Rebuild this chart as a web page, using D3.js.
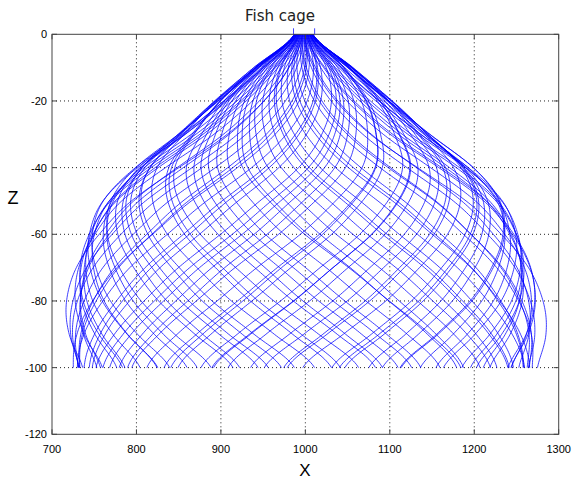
<!DOCTYPE html>
<html>
<head>
<meta charset="utf-8">
<script src="https://cdn.jsdelivr.net/npm/d3@7"></script>
<style>
  html, body { margin: 0; padding: 0; background: #fff; }
  svg { display: block; }
</style>
</head>
<body>
<script>
// Axis ranges and ticks
const xDomain = [700, 1300];
const zDomain = [-120, 0];
const xTicks = [700, 800, 900, 1000, 1100, 1200, 1300];
const zTicks = [0, -20, -40, -60, -80, -100, -120];

// Cage radius at each depth (m) and the share of the total twist reached there
const profileZ = [0, -10, -20, -30, -40, -50, -60, -70, -80, -90, -100];
const profileR = [11, 58, 104, 148, 197, 233, 252, 264, 270, 271, 268];
const twistFrac = [0, 0.08, 0.17, 0.27, 0.37, 0.48, 0.58, 0.69, 0.79, 0.90, 1.0];
const centreX = 998;

// Twines wound one way: start angle (deg), total twist (deg), radius factor
const phaseA = [0, 8.7, 14.2, 24, 28.7, 37.9, 45.9, 51.4, 61.4, 67, 75.8, 81,
                90.2, 98.6, 104.1, 113.8, 118.6, 128.1, 136, 141.3, 150.3, 159, 164.3, 173.7,
                178.5, 188, 195.9, 201.5, 211.4, 217.1, 225.1, 233.8, 238.4, 248.3, 254.1, 263,
                271.1, 276.2, 285.6, 293.9, 299.2, 307.7, 313.8, 323.5, 329.7, 339, 343.9, 353.2];
const twistA = [100, 101, 99, 100.5, 98.5, 101.5, 99.5, 100, 101, 99, 100.5, 98.5,
                100, 101.5, 99.5, 100.5, 99, 101, 98.5, 100, 101.5, 99.5, 100, 99,
                101, 100.5, 98.5, 100, 101.5, 99, 100.5, 99.5, 101, 100, 98.5, 101.5,
                99.5, 100, 100.5, 99, 101, 98.5, 100, 101.5, 99.5, 100.5, 99, 101];
const scaleA = [1.00, 0.99, 1.01, 0.98, 1.02, 1.00, 0.99, 1.01, 0.98, 1.00, 1.02, 0.99,
                1.01, 1.04, 0.98, 1.00, 1.01, 0.99, 1.02, 0.98, 1.00, 1.01, 0.99, 1.02,
                0.98, 1.00, 1.01, 0.99, 1.02, 0.98, 1.00, 1.01, 0.99, 1.02, 0.98, 1.00,
                1.01, 0.99, 1.02, 0.98, 1.00, 1.01, 0.99, 1.02, 0.98, 1.00, 1.01, 0.99];
// Twines wound the other way
const phaseB = [4.4, 10.3, 20.1, 26.1, 34.7, 39.9, 49.2, 57.5, 63.1, 72.8, 77.7, 86.6,
                94.6, 100, 109.8, 115.8, 125.2, 130.4, 139, 147.4, 152.3, 162, 168.4, 177.6,
                182.8, 191.8, 200, 205.1, 213.9, 222.2, 228.2, 237.8, 242.4, 251.7, 259.8, 265.5,
                275.1, 281, 289.5, 294.8, 304.9, 311.5, 317.7, 327.7, 333.2, 342.1, 347.6, 356.8];
const twistB = [99.5, 100.5, 101, 99, 100, 98.5, 101.5, 100, 99, 100.5, 101, 99.5,
                98.5, 100, 101.5, 99, 100.5, 100, 99.5, 101, 98.5, 100.5, 99, 101.5,
                100, 99.5, 101, 98.5, 100, 100.5, 99, 101.5, 99.5, 100, 101, 99,
                100.5, 98.5, 101.5, 100, 99, 100.5, 99.5, 101, 100, 98.5, 101.5, 100.5];
const scaleB = [0.99, 1.01, 1.00, 0.98, 1.02, 0.99, 1.01, 1.00, 0.98, 1.02, 1.00, 1.06,
                0.99, 1.01, 0.98, 1.02, 1.00, 0.99, 1.01, 0.98, 1.02, 1.00, 0.99, 1.01,
                0.98, 1.02, 1.00, 0.99, 1.01, 0.98, 1.02, 1.00, 0.99, 1.01, 0.98, 1.02,
                1.00, 0.99, 1.01, 0.98, 1.02, 1.00, 0.99, 1.01, 0.98, 1.02, 1.00, 0.99];

// Floating collar at the surface
const collarX = [986, 1011];
const collarZ = [0, 1.8];

const W = 574, H = 479;
const plot = { left: 52, right: 558.7, top: 34.3, bottom: 434.3 };

const svg = d3.select("body").append("svg").attr("width", W).attr("height", H);

const x = d3.scaleLinear().domain(xDomain).range([plot.left, plot.right]);
const z = d3.scaleLinear().domain(zDomain).range([plot.bottom, plot.top]);

// Catmull-Rom through samples given at descending depths
function smoothAt(zs, vs, zz) {
  const n = zs.length;
  let i = 0;
  while (i < n - 2 && zz < zs[i + 1]) i++;
  const t = (zs[i] - zz) / (zs[i] - zs[i + 1]);
  const p0 = vs[Math.max(i - 1, 0)], p1 = vs[i], p2 = vs[i + 1], p3 = vs[Math.min(i + 2, n - 1)];
  const t2 = t * t, t3 = t2 * t;
  return 0.5 * (2 * p1 + (-p0 + p2) * t + (2 * p0 - 5 * p1 + 4 * p2 - p3) * t2 + (-p0 + 3 * p1 - 3 * p2 + p3) * t3);
}

// Grid
const grid = svg.append("g").attr("stroke", "#222").attr("stroke-width", 1).attr("stroke-dasharray", "1,3");
xTicks.filter(v => v > xDomain[0] && v < xDomain[1]).forEach(v => {
  grid.append("line").attr("x1", x(v)).attr("x2", x(v)).attr("y1", plot.top).attr("y2", plot.bottom);
});
zTicks.filter(v => v > zDomain[0] && v < zDomain[1]).forEach(v => {
  grid.append("line").attr("x1", plot.left).attr("x2", plot.right).attr("y1", z(v)).attr("y2", z(v));
});

// Twines of the net, projected on the x-z plane
const depths = d3.range(0, -100.001, -0.5);
const line = d3.line().x(d => x(d[0])).y(d => z(d[1]));
const net = svg.append("g").attr("fill", "none").attr("stroke", "#0000ff").attr("stroke-width", 0.75);
[[phaseA, twistA, scaleA, 1], [phaseB, twistB, scaleB, -1]].forEach(([ph, tw, sc, dir]) => {
  ph.forEach((p, i) => {
    const pts = depths.map(zz => {
      const r = smoothAt(profileZ, profileR, zz) * sc[i];
      const a = (p + dir * tw[i] * smoothAt(profileZ, twistFrac, zz)) * Math.PI / 180;
      return [centreX + r * Math.cos(a), zz];
    });
    net.append("path").attr("d", line(pts));
  });
});
collarX.forEach(cx => {
  net.append("path").attr("d", line(collarZ.map(cz => [cx, cz])));
});

// Axes box and inward ticks
const axisColor = "#444";
svg.append("rect").attr("x", plot.left).attr("y", plot.top)
  .attr("width", plot.right - plot.left).attr("height", plot.bottom - plot.top)
  .attr("fill", "none").attr("stroke", axisColor).attr("stroke-width", 1);
const tl = 5;
const ticks = svg.append("g").attr("stroke", axisColor).attr("stroke-width", 1);
xTicks.forEach(v => {
  ticks.append("line").attr("x1", x(v)).attr("x2", x(v)).attr("y1", plot.bottom).attr("y2", plot.bottom - tl);
  ticks.append("line").attr("x1", x(v)).attr("x2", x(v)).attr("y1", plot.top).attr("y2", plot.top + tl);
});
zTicks.forEach(v => {
  ticks.append("line").attr("x1", plot.left).attr("x2", plot.left + tl).attr("y1", z(v)).attr("y2", z(v));
  ticks.append("line").attr("x1", plot.right).attr("x2", plot.right - tl).attr("y1", z(v)).attr("y2", z(v));
});

const labelFont = "'Liberation Sans', Arial, Helvetica, sans-serif";
svg.append("g").selectAll("text").data(xTicks).join("text")
  .attr("x", d => x(d)).attr("y", 453).attr("text-anchor", "middle")
  .attr("font-family", labelFont).attr("font-size", 11).attr("fill", "#000").text(d => d);
svg.append("g").selectAll("text").data(zTicks).join("text")
  .attr("x", 47).attr("y", d => z(d) + 4).attr("text-anchor", "end")
  .attr("font-family", labelFont).attr("font-size", 11).attr("fill", "#000").text(d => d);

svg.append("text").attr("x", 280).attr("y", 21).attr("text-anchor", "middle")
  .attr("font-family", "'DejaVu Sans', sans-serif").attr("font-size", 15).attr("fill", "#222")
  .text("Fish cage");
svg.append("text").attr("x", 305).attr("y", 476).attr("text-anchor", "middle")
  .attr("font-family", labelFont).attr("font-size", 17).attr("fill", "#000").text("X");
svg.append("text").attr("x", 13).attr("y", 204).attr("text-anchor", "middle")
  .attr("font-family", labelFont).attr("font-size", 18).attr("fill", "#000").text("Z");
</script>
</body>
</html>
